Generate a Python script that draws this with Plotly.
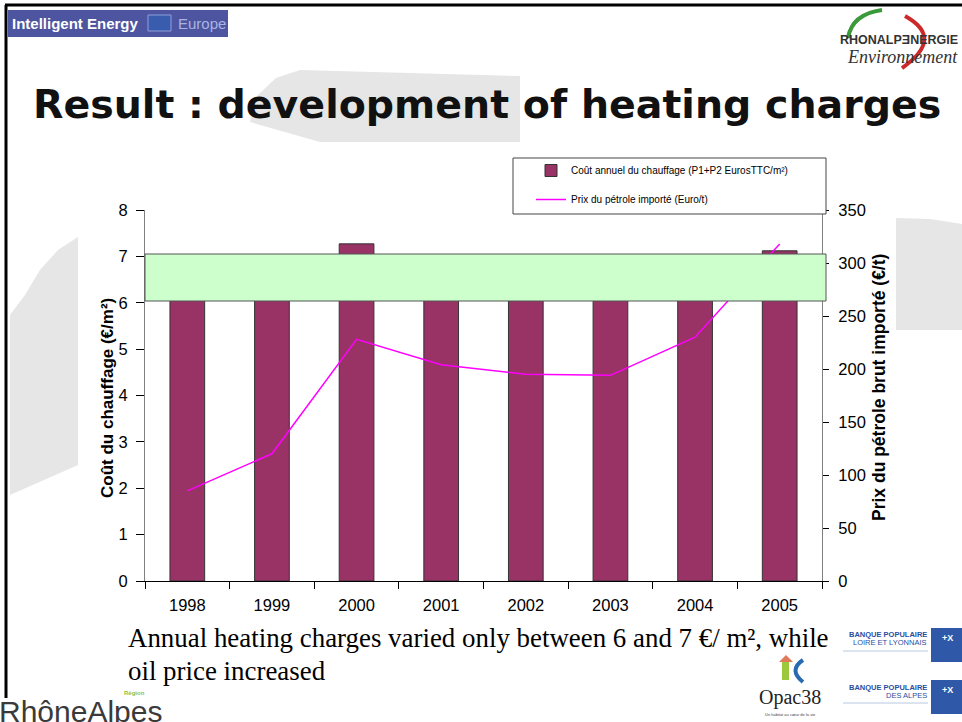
import plotly.graph_objects as go

# ---------------- data ----------------
years = ["1998", "1999", "2000", "2001", "2002", "2003", "2004", "2005"]
heating_cost = [6.4, 6.5, 7.27, 6.8, 6.7, 6.6, 6.9, 7.12]      # €/m² (bars, mostly hidden by the band)
oil_price = [85, 120, 228, 204, 195, 194, 230, 318]            # Euro/t (line)
bar_name = "Coût annuel du chauffage (P1+P2 EurosTTC/m²)"
line_name = "Prix du pétrole importé (Euro/t)"
left_title = "Coût du chauffage (€/m²)"
right_title = "Prix du pétrole brut importé (€/t)"
slide_title = "Result : development of heating charges"
caption_1 = "Annual heating charges varied only between 6 and 7 €/ m², while"
caption_2 = "oil price increased"

# ---------------- geometry helpers ----------------
W, H = 962, 722
L, R, T, B = 145, 822, 210, 581   # plot area in pixels


def px(x):
    return (x - L) / (R - L)


def py(y):
    return (B - y) / (B - T)


fig = go.Figure()

fig.add_trace(go.Bar(
    x=years, y=heating_cost, name=bar_name, width=0.41,
    marker=dict(color="#993366", line=dict(color="#333333", width=1)),
    legendgroup="a",
))
fig.add_trace(go.Scatter(
    x=years, y=oil_price, name=line_name, yaxis="y2", mode="lines",
    line=dict(color="#FF00FF", width=1.5),
    legendgroup="b",
))

shapes = []
grey = "#e6e6e6"


def path(points, close=True):
    s = "M " + " L ".join(f"{px(a):.4f},{py(b):.4f}" for a, b in points)
    return s + (" Z" if close else "")


# light grey watermark swooshes
shapes.append(dict(type="path", xref="paper", yref="paper", layer="below",
                   path=path([(250, 122), (258, 95), (276, 78), (300, 70), (520, 76),
                              (520, 142), (320, 142)]),
                   fillcolor=grey, line=dict(width=0)))
shapes.append(dict(type="path", xref="paper", yref="paper", layer="below",
                   path=path([(10, 315), (25, 295), (40, 270), (58, 250), (78, 237),
                              (78, 465), (10, 495)]),
                   fillcolor=grey, line=dict(width=0)))
shapes.append(dict(type="path", xref="paper", yref="paper", layer="below",
                   path=path([(896, 218), (930, 219), (962, 224), (962, 330), (896, 330)]),
                   fillcolor=grey, line=dict(width=0)))

# slide frame
shapes.append(dict(type="line", xref="paper", yref="paper", x0=px(5), x1=px(962), y0=py(5), y1=py(5),
                   line=dict(color="black", width=3)))
shapes.append(dict(type="line", xref="paper", yref="paper", x0=px(6), x1=px(6), y0=py(5), y1=py(698),
                   line=dict(color="black", width=3)))

# top-left banner
shapes.append(dict(type="rect", xref="paper", yref="paper", x0=px(8), x1=px(228), y0=py(10), y1=py(37),
                   fillcolor="#4d54a0", line=dict(width=0)))
shapes.append(dict(type="rect", xref="paper", yref="paper", x0=px(148), x1=px(171), y0=py(15), y1=py(31),
                   fillcolor="#3a5cae", line=dict(color="#8fa0d8", width=1)))

# green band over the chart
shapes.append(dict(type="rect", xref="paper", yref="paper", layer="above",
                   x0=px(145), x1=px(826), y0=py(301), y1=py(254),
                   fillcolor="#CCFFCC", line=dict(color="#555555", width=1)))

# legend box
shapes.append(dict(type="rect", xref="paper", yref="paper", layer="above",
                   x0=px(513), x1=px(826), y0=py(214), y1=py(158),
                   fillcolor="white", line=dict(color="#444444", width=1)))

# top-right logo arcs
shapes.append(dict(type="path", xref="paper", yref="paper",
                   path=f"M {px(848):.4f},{py(38):.4f} Q {px(852):.4f},{py(14):.4f} {px(882):.4f},{py(10):.4f}",
                   line=dict(color="#3a9a3a", width=4)))
shapes.append(dict(type="path", xref="paper", yref="paper",
                   path=f"M {px(905):.4f},{py(16):.4f} Q {px(945):.4f},{py(38):.4f} {px(902):.4f},{py(68):.4f}",
                   line=dict(color="#cc2a2a", width=4)))

# Banque Populaire blocks
for top in (628, 680):
    shapes.append(dict(type="rect", xref="paper", yref="paper", x0=px(931), x1=px(962),
                       y0=py(top + 34), y1=py(top), fillcolor="#2f58a8", line=dict(width=0)))
    shapes.append(dict(type="line", xref="paper", yref="paper", x0=px(843), x1=px(928),
                       y0=py(top + 23), y1=py(top + 23), line=dict(color="#b8c8e0", width=1)))

# Opac38 icon
shapes.append(dict(type="rect", xref="paper", yref="paper", x0=px(782), x1=px(789), y0=py(680), y1=py(662),
                   fillcolor="#9cc83c", line=dict(width=0)))
shapes.append(dict(type="path", xref="paper", yref="paper",
                   path=f"M {px(779):.4f},{py(662):.4f} L {px(786):.4f},{py(655):.4f} L {px(793):.4f},{py(662):.4f} Z",
                   fillcolor="#e07a5a", line=dict(width=0)))
shapes.append(dict(type="path", xref="paper", yref="paper",
                   path=f"M {px(803):.4f},{py(660):.4f} Q {px(788):.4f},{py(670):.4f} {px(803):.4f},{py(682):.4f}",
                   line=dict(color="#2a6ab0", width=4)))

annotations = []


def note(text, x, y, size, color="#000", family="Liberation Sans", xanchor="left", angle=0, **kw):
    annotations.append(dict(text=text, x=px(x), y=py(y), xref="paper", yref="paper",
                            xanchor=xanchor, yanchor="middle", showarrow=False, textangle=angle,
                            font=dict(size=size, color=color, family=family), **kw))


note(f"<b>{slide_title}</b>", 31, 104, 39.5, "#111111", "DejaVu Sans")
note("<b>Intelligent Energy</b>", 10, 23, 15, "white")
note("Europe", 176, 23, 15, "#a8b4e0")
note("<b>RHONALPƎNERGIE</b>", 960, 40, 12.5, "#333333", xanchor="right")
note("<i>Environnement</i>", 960, 57, 18, "#333333", "Liberation Serif", xanchor="right")

note(f"<b>{left_title}</b>", 107, 398, 17, angle=-90, xanchor="center")
note(f"<b>{right_title}</b>", 879, 387, 17.5, angle=-90, xanchor="center")

note(caption_1, 126, 638, 26.9, "#000", "Liberation Serif")
note(caption_2, 126, 671, 26.9, "#000", "Liberation Serif")

note("RhôneAlpes", -3, 711, 30, "#3a3a3a")
note("<b>Région</b>", 122, 693, 6, "#8fbf3f")
note("Opac38", 790, 697, 20, "#222222", "Liberation Serif", xanchor="center")
note("Un habitat au cœur de la vie", 790, 714, 4, "#444444", xanchor="center")

note("<b>BANQUE POPULAIRE</b>", 929, 634, 7.5, "#2a4ea0", xanchor="right")
note("LOIRE ET LYONNAIS", 929, 642, 7.5, "#2a4ea0", xanchor="right")
note("<b>BANQUE POPULAIRE</b>", 929, 687, 7.5, "#2a4ea0", xanchor="right")
note("DES ALPES", 929, 695, 7.5, "#2a4ea0", xanchor="right")
note("<b>+X</b>", 947, 638, 9, "white", xanchor="center")
note("<b>+X</b>", 947, 690, 9, "white", xanchor="center")

tickfont = dict(family="Liberation Sans", size=16.5, color="#000")

fig.update_layout(
    width=W, height=H,
    margin=dict(l=L, r=W - R, t=T, b=H - B, pad=0),
    paper_bgcolor="white", plot_bgcolor="rgba(0,0,0,0)",
    showlegend=True,
    legend=dict(x=px(531), y=py(156), xanchor="left", yanchor="top",
                bgcolor="rgba(0,0,0,0)", borderwidth=0,
                font=dict(family="Liberation Sans", size=10, color="#000"),
                tracegroupgap=10, itemwidth=30),
    xaxis=dict(type="category", categoryorder="array", categoryarray=years,
               range=[-0.5, 7.5], showgrid=False, zeroline=False,
               showline=True, linecolor="#000", linewidth=1,
               ticks="outside", tickson="boundaries", ticklen=7, tickcolor="#000",
               tickfont=tickfont, ticklabelstandoff=9),
    yaxis=dict(range=[0, 8], dtick=1, showgrid=False, zeroline=False,
               showline=True, linecolor="#808080", linewidth=1,
               ticks="outside", ticklen=8, tickcolor="#000", tickfont=tickfont,
               ticklabelstandoff=5),
    yaxis2=dict(range=[0, 350], dtick=50, overlaying="y", side="right",
                showgrid=False, zeroline=False, showline=True, linecolor="#808080", linewidth=1,
                ticks="outside", ticklen=6, tickcolor="#000", tickfont=tickfont,
                ticklabelstandoff=6),
    bargap=0.59,
    shapes=shapes,
    annotations=annotations,
)

fig.write_html("out.html", config={"displayModeBar": False},
               post_script="document.body.style.margin='0';document.body.style.overflow='hidden';")
